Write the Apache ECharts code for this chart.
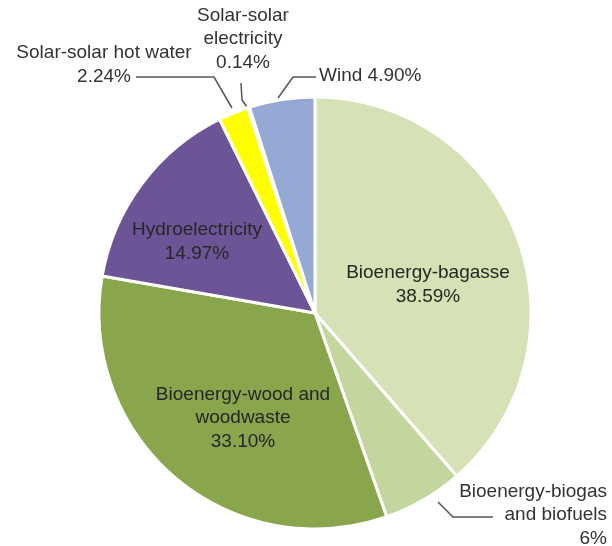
<!DOCTYPE html>
<html>
<head>
<meta charset="utf-8">
<script src="https://cdn.jsdelivr.net/npm/echarts@6/dist/echarts.min.js"></script>
<style>
html,body{margin:0;padding:0;background:#fff;}
#chart{width:612px;height:546px;}
</style>
</head>
<body>
<div id="chart"></div>
<script>
const categories = ['Bioenergy-bagasse', 'Bioenergy-biogas and biofuels', 'Bioenergy-wood and woodwaste', 'Hydroelectricity', 'Solar-solar hot water', 'Solar-solar electricity', 'Wind'];
const values = [38.59, 6, 33.10, 14.97, 2.24, 0.14, 4.90];
const labelTexts = ['Bioenergy-bagasse\n38.59%', 'Bioenergy-biogas\nand biofuels\n6%', 'Bioenergy-wood and\nwoodwaste\n33.10%', 'Hydroelectricity\n14.97%', 'Solar-solar hot water\n2.24%', 'Solar-solar\nelectricity\n0.14%', 'Wind 4.90%'];
const colors = ['#d6e1b6', '#c3d69d', '#89a64d', '#6d5496', '#ffff00', '#f5f5a0', '#95a9d4'];
const insideLabel = [true, false, true, true, false, false, false];

// label placement (x, y, align) and leader lines
const labelPos = [
  {x: 428, y: 285, align: 'center'},
  {x: 607, y: 515, align: 'right'},
  {x: 243, y: 418, align: 'center'},
  {x: 197, y: 242, align: 'center'},
  {x: 104, y: 65, align: 'center'},
  {x: 243, y: 39, align: 'center'},
  {x: 319, y: 76, align: 'left'}
];
const leaderLines = [
  null,
  [[438, 502], [453, 517], [493, 517]],
  null,
  null,
  [[232, 108], [214, 77], [136, 77]],
  [[247, 107], [242, 100], [241, 83]],
  [[278, 98], [293, 77], [316, 77]]
];

const chart = echarts.init(document.getElementById('chart'), null, {renderer: 'canvas'});
const data = categories.map((name, i) => ({
  name: name,
  value: values[i],
  itemStyle: {color: colors[i]},
  label: {
    show: true,
    formatter: labelTexts[i],
    color: insideLabel[i] ? '#262626' : '#333333'
  },
  labelLine: {show: !insideLabel[i]}
}));

chart.setOption({
  animation: false,
  backgroundColor: '#ffffff',
  series: [{
    type: 'pie',
    center: [315, 313],
    radius: 216,
    startAngle: 90,
    clockwise: true,
    avoidLabelOverlap: false,
    itemStyle: {borderColor: '#ffffff', borderWidth: 3},
    label: {
      position: 'outside',
      fontFamily: 'Liberation Sans, Arial, sans-serif',
      fontSize: 19,
      lineHeight: 23.5,
      align: 'center'
    },
    labelLine: {
      show: true,
      lineStyle: {color: '#555555', width: 1.5}
    },
    labelLayout: function (params) {
      const i = params.dataIndex;
      const p = labelPos[i];
      const res = {x: p.x, y: p.y, align: p.align, verticalAlign: 'middle'};
      if (leaderLines[i]) res.labelLinePoints = leaderLines[i];
      return res;
    },
    data: data
  }]
});
</script>
</body>
</html>
